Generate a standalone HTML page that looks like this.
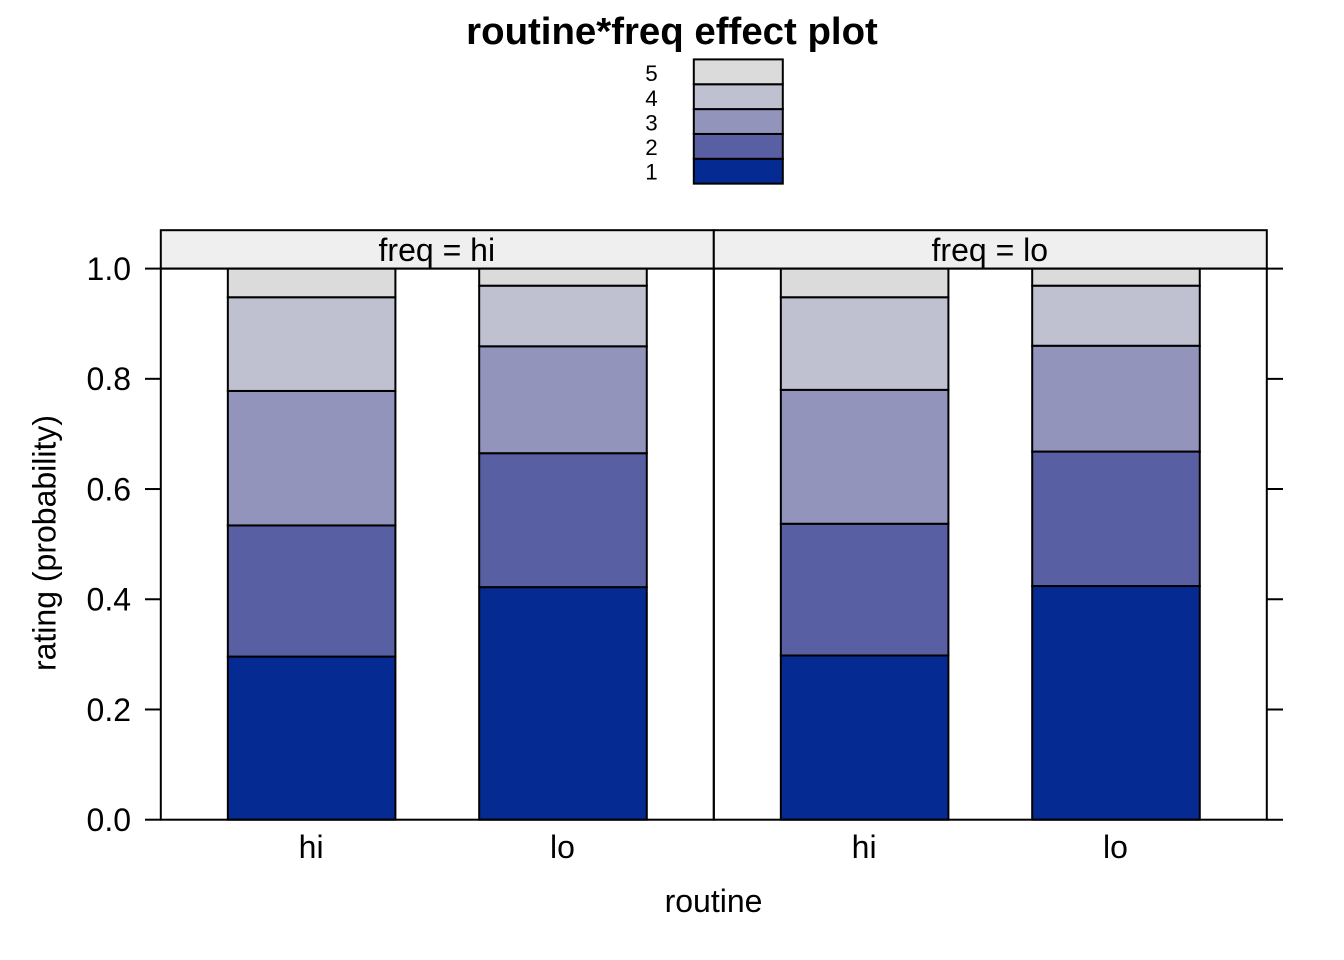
<!DOCTYPE html>
<html>
<head>
<meta charset="utf-8">
<title>routine*freq effect plot</title>
<style>
html,body{margin:0;padding:0;background:#fff;}
svg{display:block;font-family:"Liberation Sans",Arial,sans-serif;}
</style>
</head>
<body>
<svg id="chart" width="1344" height="960" viewBox="0 0 1344 960" xmlns="http://www.w3.org/2000/svg">
<rect x="0" y="0" width="1344" height="960" fill="#ffffff"/>
<text x="672" y="44" font-size="38.4" font-weight="bold" text-anchor="middle" fill="#000">routine*freq effect plot</text>
<text transform="translate(55.5,543) rotate(-90)" font-size="32" text-anchor="middle" fill="#000">rating (probability)</text>
<text x="713.5" y="912" font-size="32" text-anchor="middle" fill="#000">routine</text>
<g id="legend"></g>
<g id="panels"></g>
<g id="axes"></g>
</svg>
<script>
const levels = ["1","2","3","4","5"];
const colors = ["#052a92","#5860a3","#9294bc","#bfc1d1","#dbdbdb"];
const panelLabels = ["freq = hi","freq = lo"];
const categories = ["hi","lo"];
// cumulative upper bound of levels 1-4 per panel, per category
const cumHiHi = [0.296,0.534,0.778,0.948];
const cumHiLo = [0.422,0.665,0.859,0.969];
const cumLoHi = [0.298,0.537,0.780,0.948];
const cumLoLo = [0.424,0.668,0.860,0.969];
const panelData = [[cumHiHi,cumHiLo],[cumLoHi,cumLoLo]];
const yTicks = [0,0.2,0.4,0.6,0.8,1.0];

const NS = "http://www.w3.org/2000/svg";
const panelsG = document.getElementById("panels");
const axesG = document.getElementById("axes");
const legendG = document.getElementById("legend");

const plotL = 160.8, plotR = 1266.8, plotTop = 268.6, plotBottom = 819.7, stripTop = 230.2;
const panelW = (plotR - plotL) / panelLabels.length;
const xMin = 0.4, xSpan = 2.2, barFrac = 2 / 3;
const barW = panelW * barFrac / xSpan;
function yScale(v){ return plotBottom - v * (plotBottom - plotTop); }
function xScale(panel, cat){ return plotL + panel * panelW + panelW * (cat + 1 - xMin) / xSpan; }

function mk(tag, attrs, parent){
  const el = document.createElementNS(NS, tag);
  for (const k in attrs) el.setAttribute(k, attrs[k]);
  parent.appendChild(el);
  return el;
}

panelLabels.forEach(function(label, p){
  const left = plotL + p * panelW;
  const strip = mk("rect",{x:left,y:stripTop,width:panelW,height:plotTop-stripTop,fill:"#efefef",stroke:"#000","stroke-width":2},panelsG);
  
  
  const st = mk("text",{x:left+panelW/2-0.5,y:261,"font-size":32,"text-anchor":"middle",fill:"#000"},panelsG);
  
  
  st.textContent = label;

  categories.forEach(function(cat, c){
    const cx = xScale(p, c);
    const cum = panelData[p][c].concat([1]);
    let lower = 0;
    cum.forEach(function(upper, i){
      const r = mk("rect",{x:cx-barW/2,y:yScale(upper),width:barW,height:yScale(lower)-yScale(upper),fill:colors[i],stroke:"#000","stroke-width":2},panelsG);
      
      
      lower = upper;
    });
    const lab = mk("text",{x:cx-0.5,y:858,"font-size":32,"text-anchor":"middle",fill:"#000"},axesG);
    
    
    lab.textContent = cat;
  });

  const frame = mk("rect",{x:left,y:plotTop,width:panelW,height:plotBottom-plotTop,fill:"none",stroke:"#000","stroke-width":2},panelsG);
  
  
});

yTicks.forEach(function(t){
  const y = yScale(t);
  const l = mk("line",{x1:145,x2:plotL,y1:y,y2:y,stroke:"#000","stroke-width":2},axesG);
  
  
  const r = mk("line",{x1:plotR,x2:1283,y1:y,y2:y,stroke:"#000","stroke-width":2},axesG);
  
  
  const lab = mk("text",{x:131,y:y+11.4,"font-size":32,"text-anchor":"end",fill:"#000"},axesG);
  
  
  lab.textContent = t.toFixed(1);
});

levels.forEach(function(lv, i){
  const y = 158.8 - i * 24.85;
  const r = mk("rect",{x:693.8,y:y,width:89,height:24.85,fill:colors[i],stroke:"#000","stroke-width":2},legendG);
  
  
  const t = mk("text",{x:651.5,y:179.7 - i * 24.65,"font-size":22.4,"text-anchor":"middle",fill:"#000"},legendG);
  
  
  t.textContent = lv;
});
</script>
</body>
</html>
